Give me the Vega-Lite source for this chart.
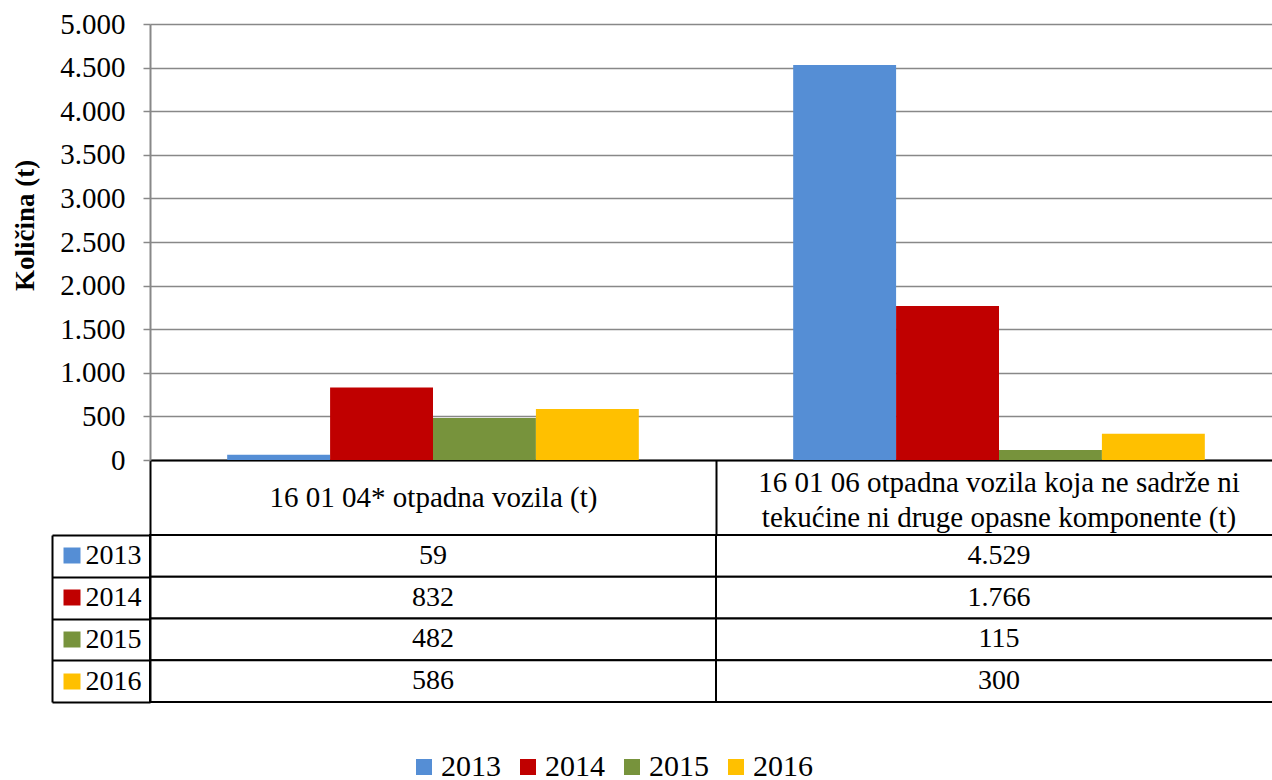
{
  "$schema": "https://vega.github.io/schema/vega-lite/v6.json",
  "padding": {"left": 11, "top": 10, "right": 0, "bottom": 0},
  "bounds": "flush",
  "spacing": 75,
  "config": {
    "font": "Liberation Serif",
    "view": {"stroke": null},
    "locale": {"number": {"decimal": ",", "thousands": ".", "grouping": [3], "currency": ["", ""]}},
    "axis": {"labelFont": "Liberation Serif", "titleFont": "Liberation Serif", "labelColor": "#000000", "titleColor": "#000000"},
    "legend": {"labelFont": "Liberation Serif", "labelColor": "#000000"}
  },
  "data": {
    "values": [
      {"category": "16 01 04* otpadna vozila (t)", "year": "2013", "value": 59},
      {"category": "16 01 04* otpadna vozila (t)", "year": "2014", "value": 832},
      {"category": "16 01 04* otpadna vozila (t)", "year": "2015", "value": 482},
      {"category": "16 01 04* otpadna vozila (t)", "year": "2016", "value": 586},
      {"category": "16 01 06 otpadna vozila koja ne sadrže ni tekućine ni druge opasne komponente (t)", "year": "2013", "value": 4529},
      {"category": "16 01 06 otpadna vozila koja ne sadrže ni tekućine ni druge opasne komponente (t)", "year": "2014", "value": 1766},
      {"category": "16 01 06 otpadna vozila koja ne sadrže ni tekućine ni druge opasne komponente (t)", "year": "2015", "value": 115},
      {"category": "16 01 06 otpadna vozila koja ne sadrže ni tekućine ni druge opasne komponente (t)", "year": "2016", "value": 300}
    ]
  },
  "vconcat": [
    {
      "width": 1132,
      "height": 436,
      "layer": [
        {
          "mark": {"type": "bar"},
          "encoding": {
            "x": {
              "field": "category", "type": "nominal", "sort": null,
              "scale": {"paddingInner": 0, "paddingOuter": 0},
              "axis": {
                "title": null, "labelAngle": 0, "orient": "bottom",
                "domainColor": "#000000", "domainWidth": 2,
                "tickBand": "extent", "tickSize": 75, "tickColor": "#000000", "tickWidth": 2,
                "labelFontSize": 29, "labelBaseline": "middle", "labelPadding": -38,
                "labelLimit": 800,
                "labelExpr": "indexof(datum.label, 'sadrže') > 0 ? '' : datum.label"
              }
            },
            "xOffset": {"field": "year", "type": "nominal", "scale": {"paddingInner": 0, "paddingOuter": 0.75}},
            "y": {
              "field": "value", "type": "quantitative",
              "scale": {"domain": [0, 5000], "nice": false},
              "axis": {
                "title": "Količina (t)", "titleFontSize": 27, "titleFontWeight": "bold", "titlePadding": 20,
                "titleY": 201,
                "values": [0, 500, 1000, 1500, 2000, 2500, 3000, 3500, 4000, 4500, 5000],
                "format": ",d", "labelFontSize": 29, "labelPadding": 18,
                "tickSize": 7, "tickColor": "#888888", "tickWidth": 1.5,
                "domainColor": "#888888", "domainWidth": 2,
                "grid": true, "gridColor": "#888888", "gridWidth": 1.5
              }
            },
            "color": {
              "field": "year", "type": "nominal",
              "scale": {"domain": ["2013", "2014", "2015", "2016"], "range": ["#558ED5", "#C00000", "#77933C", "#FFC000"]},
              "legend": {
                "title": null, "orient": "none", "direction": "horizontal",
                "legendX": 259, "legendY": 728,
                "symbolType": "square", "symbolSize": 256, "symbolStrokeWidth": 0,
                "labelFontSize": 30, "labelOffset": 2, "columnPadding": 12, "padding": 0
              }
            }
          }
        },
        {
          "mark": {"type": "bar", "opacity": 0},
          "encoding": {
            "x": {
              "field": "category", "type": "nominal", "sort": null,
              "axis": {
                "title": null, "labelAngle": 0, "orient": "bottom",
                "domain": false, "ticks": false, "grid": false,
                "labelFontSize": 29, "labelBaseline": "middle", "labelPadding": 22,
                "labelLimit": 800, "labelLineHeight": 35,
                "labelExpr": "indexof(datum.label, 'sadrže') > 0 ? ['16 01 06 otpadna vozila koja ne sadrže ni', 'tekućine ni druge opasne komponente (t)'] : ''"
              }
            }
          }
        }
      ],
      "resolve": {"axis": {"x": "independent"}}
    },
    {
      "width": 1132,
      "height": 167,
      "layer": [
        {
          "mark": {"type": "rect", "fill": "#ffffff", "stroke": "#000000", "strokeWidth": 2},
          "encoding": {
            "x": {"field": "category", "type": "nominal", "sort": null, "scale": {"paddingInner": 0, "paddingOuter": 0}, "axis": null},
            "y": {
              "field": "year", "type": "nominal", "sort": ["2013", "2014", "2015", "2016"],
              "scale": {"paddingInner": 0, "paddingOuter": 0},
              "axis": {
                "title": null, "orient": "left",
                "domainColor": "#000000", "domainWidth": 2,
                "tickBand": "extent", "tickSize": 98, "tickColor": "#000000", "tickWidth": 2,
                "labelFontSize": 28, "labelPadding": -89, "labelAlign": "right", "labelBaseline": "middle"
              }
            }
          }
        },
        {
          "mark": {"type": "text", "fontSize": 28, "color": "#000000"},
          "encoding": {
            "x": {"field": "category", "type": "nominal", "sort": null, "axis": null},
            "y": {
              "field": "year", "type": "nominal", "sort": ["2013", "2014", "2015", "2016"],
              "axis": {
                "title": null, "orient": "left", "offset": 70,
                "domain": false, "labels": false,
                "ticks": true, "tickSize": 17, "tickWidth": 16, "tickCap": "butt",
                "tickColor": {"expr": "datum.value == '2013' ? '#558ED5' : datum.value == '2014' ? '#C00000' : datum.value == '2015' ? '#77933C' : '#FFC000'"}
              }
            },
            "text": {"field": "value", "type": "quantitative", "format": ",d"}
          }
        },
        {
          "mark": {"type": "rect", "opacity": 0},
          "encoding": {
            "x": {"field": "category", "type": "nominal", "sort": null, "axis": null},
            "y": {
              "field": "year", "type": "nominal", "sort": ["2013", "2014", "2015", "2016"],
              "axis": {
                "title": null, "orient": "left", "offset": 98,
                "domain": true, "domainColor": "#000000", "domainWidth": 2,
                "ticks": false, "labels": false
              }
            }
          }
        }
      ],
      "resolve": {"axis": {"y": "independent"}}
    }
  ]
}
